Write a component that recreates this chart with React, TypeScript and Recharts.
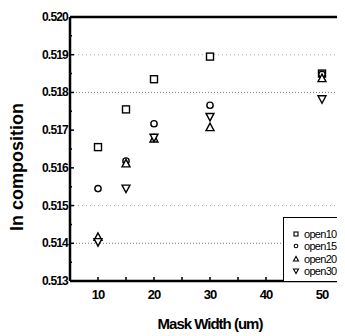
import { ScatterChart, Scatter, XAxis, YAxis, ReferenceLine, Legend } from "recharts";

// Mask widths (um) and In composition
const maskWidths = [10, 15, 20, 30, 50];
const open10 = [0.51655, 0.51755, 0.51835, 0.51895, 0.5185];
const open15 = [0.51545, 0.51618, 0.51717, 0.51766, 0.51848];
const open20 = [0.51417, 0.51612, 0.51678, 0.51708, 0.51838];
const open30 = [0.51403, 0.51545, 0.5168, 0.51735, 0.51782];

const xTicks = [10, 15, 20, 25, 30, 35, 40, 45, 50];
const xLabels = [10, 20, 30, 40, 50];
const yTicks = [0.513, 0.5135, 0.514, 0.5145, 0.515, 0.5155, 0.516, 0.5165, 0.517, 0.5175, 0.518, 0.5185, 0.519, 0.5195, 0.52];
const yLabels = ["0.513", "0.514", "0.515", "0.516", "0.517", "0.518", "0.519", "0.520"];
const darkGrid = [0.518, 0.514];
const lightGrid = [0.519, 0.515];

const seriesNames = ["open10", "open15", "open20", "open30"];
const seriesKinds = ["square", "circle", "up", "down"];
const seriesValues = [open10, open15, open20, open30];

const toPoints = (vals: number[]) => maskWidths.map((w, i) => ({ x: w, y: vals[i] }));

const font = "'Liberation Sans', Arial, sans-serif";

const Marker = ({ kind, cx, cy, s = 3.5, sw = 1.4 }: any) => {
  if (cx == null || cy == null) return null;
  const common = { fill: "white", stroke: "black", strokeWidth: sw };
  if (kind === "square") return <rect x={cx - s} y={cy - s} width={2 * s} height={2 * s} {...common} />;
  if (kind === "circle") return <circle cx={cx} cy={cy} r={s * 0.9} {...common} />;
  if (kind === "up")
    return <polygon points={`${cx},${cy - s - 0.5} ${cx - s - 0.5},${cy + s} ${cx + s + 0.5},${cy + s}`} {...common} />;
  return <polygon points={`${cx},${cy + s + 0.5} ${cx - s - 0.5},${cy - s} ${cx + s + 0.5},${cy - s}`} {...common} />;
};

const YTick = ({ x, y, payload }: any) => {
  const label = yLabels.find((l) => Math.abs(parseFloat(l) - payload.value) < 1e-7);
  return (
    <g>
      <line x1={x + 2} x2={x + (label ? 6 : 4)} y1={y} y2={y} stroke="black" strokeWidth={1.5} />
      {label && (
        <text x={x} y={y} dy={4} textAnchor="end" fontSize={12} fontWeight="bold" letterSpacing={-0.8} fontFamily={font} fill="black">
          {label}
        </text>
      )}
    </g>
  );
};

const XTick = ({ x, y, payload }: any) => {
  const show = xLabels.includes(payload.value);
  return (
    <g>
      <line x1={x} x2={x} y1={y - 3} y2={y - 6} stroke="black" strokeWidth={1.5} />
      {show && (
        <text x={x} y={y} dy={16} textAnchor="middle" fontSize={13} fontWeight="bold" letterSpacing={-1} fontFamily={font} fill="black">
          {payload.value}
        </text>
      )}
    </g>
  );
};

const YTitle = () => (
  <text
    transform="translate(15,159) rotate(-90)"
    textAnchor="middle"
    fontSize={18}
    fontWeight="bold"
    fontFamily={font}
    fill="black"
  >
    In composition
  </text>
);

const LegendBox = () => (
  <div
    style={{
      borderLeft: "1px solid black",
      borderTop: "1px solid black",
      height: 64,
      paddingTop: 10,
      paddingLeft: 8,
      boxSizing: "border-box",
      background: "white",
      fontFamily: font,
      fontSize: 11,
      letterSpacing: -0.7,
      whiteSpace: "nowrap",
    }}
  >
    {seriesNames.map((n, i) => (
      <div key={n} style={{ display: "flex", alignItems: "center", height: 12.3 }}>
        <svg width={8} height={10} style={{ marginRight: 4 }}>
          <Marker kind={seriesKinds[i]} cx={4} cy={5} s={2} sw={1.1} />
        </svg>
        <span>{n}</span>
      </div>
    ))}
  </div>
);

export default function App() {
  return (
    <div style={{ width: 337, height: 328, overflow: "hidden" }}>
      <ScatterChart width={345} height={328} margin={{ top: 9, right: 3, bottom: 25, left: 0 }}>
        <XAxis
          type="number"
          dataKey="x"
          domain={[5, 55]}
          ticks={xTicks}
          tick={<XTick />}
          tickLine={false}
          tickSize={0}
          height={30}
          axisLine={{ stroke: "black", strokeWidth: 2.5 }}
          label={{ value: "Mask Width (um)", position: "bottom", offset: 7, style: { fontSize: 15, fontWeight: "bold", letterSpacing: -1, fontFamily: font, fill: "black" } }}
        />
        <YAxis
          type="number"
          dataKey="y"
          domain={[0.513, 0.52]}
          ticks={yTicks}
          tick={<YTick />}
          tickLine={false}
          tickSize={0}
          tickMargin={2}
          width={62}
          interval={0}
          axisLine={{ stroke: "black", strokeWidth: 2.5 }}
          label={{ content: () => <YTitle /> }}
        />
        {darkGrid.map((v) => (
          <ReferenceLine key={v} y={v} stroke="#777" strokeDasharray="1 2" strokeWidth={1} />
        ))}
        {lightGrid.map((v) => (
          <ReferenceLine key={v} y={v} stroke="#aaa" strokeDasharray="1 3" strokeWidth={1} />
        ))}
        <ReferenceLine y={0.52} stroke="black" strokeWidth={2.5} />
        {seriesNames.map((n, i) => (
          <Scatter
            key={n}
            name={n}
            data={toPoints(seriesValues[i])}
            isAnimationActive={false}
            shape={(p: any) => <Marker kind={seriesKinds[i]} cx={p.cx} cy={p.cy} />}
          />
        ))}
        <Legend
          layout="vertical"
          align="center"
          verticalAlign="middle"
          content={<LegendBox />}
          wrapperStyle={{ position: "absolute", left: 275, top: 209, width: 62 }}
        />
      </ScatterChart>
    </div>
  );
}
